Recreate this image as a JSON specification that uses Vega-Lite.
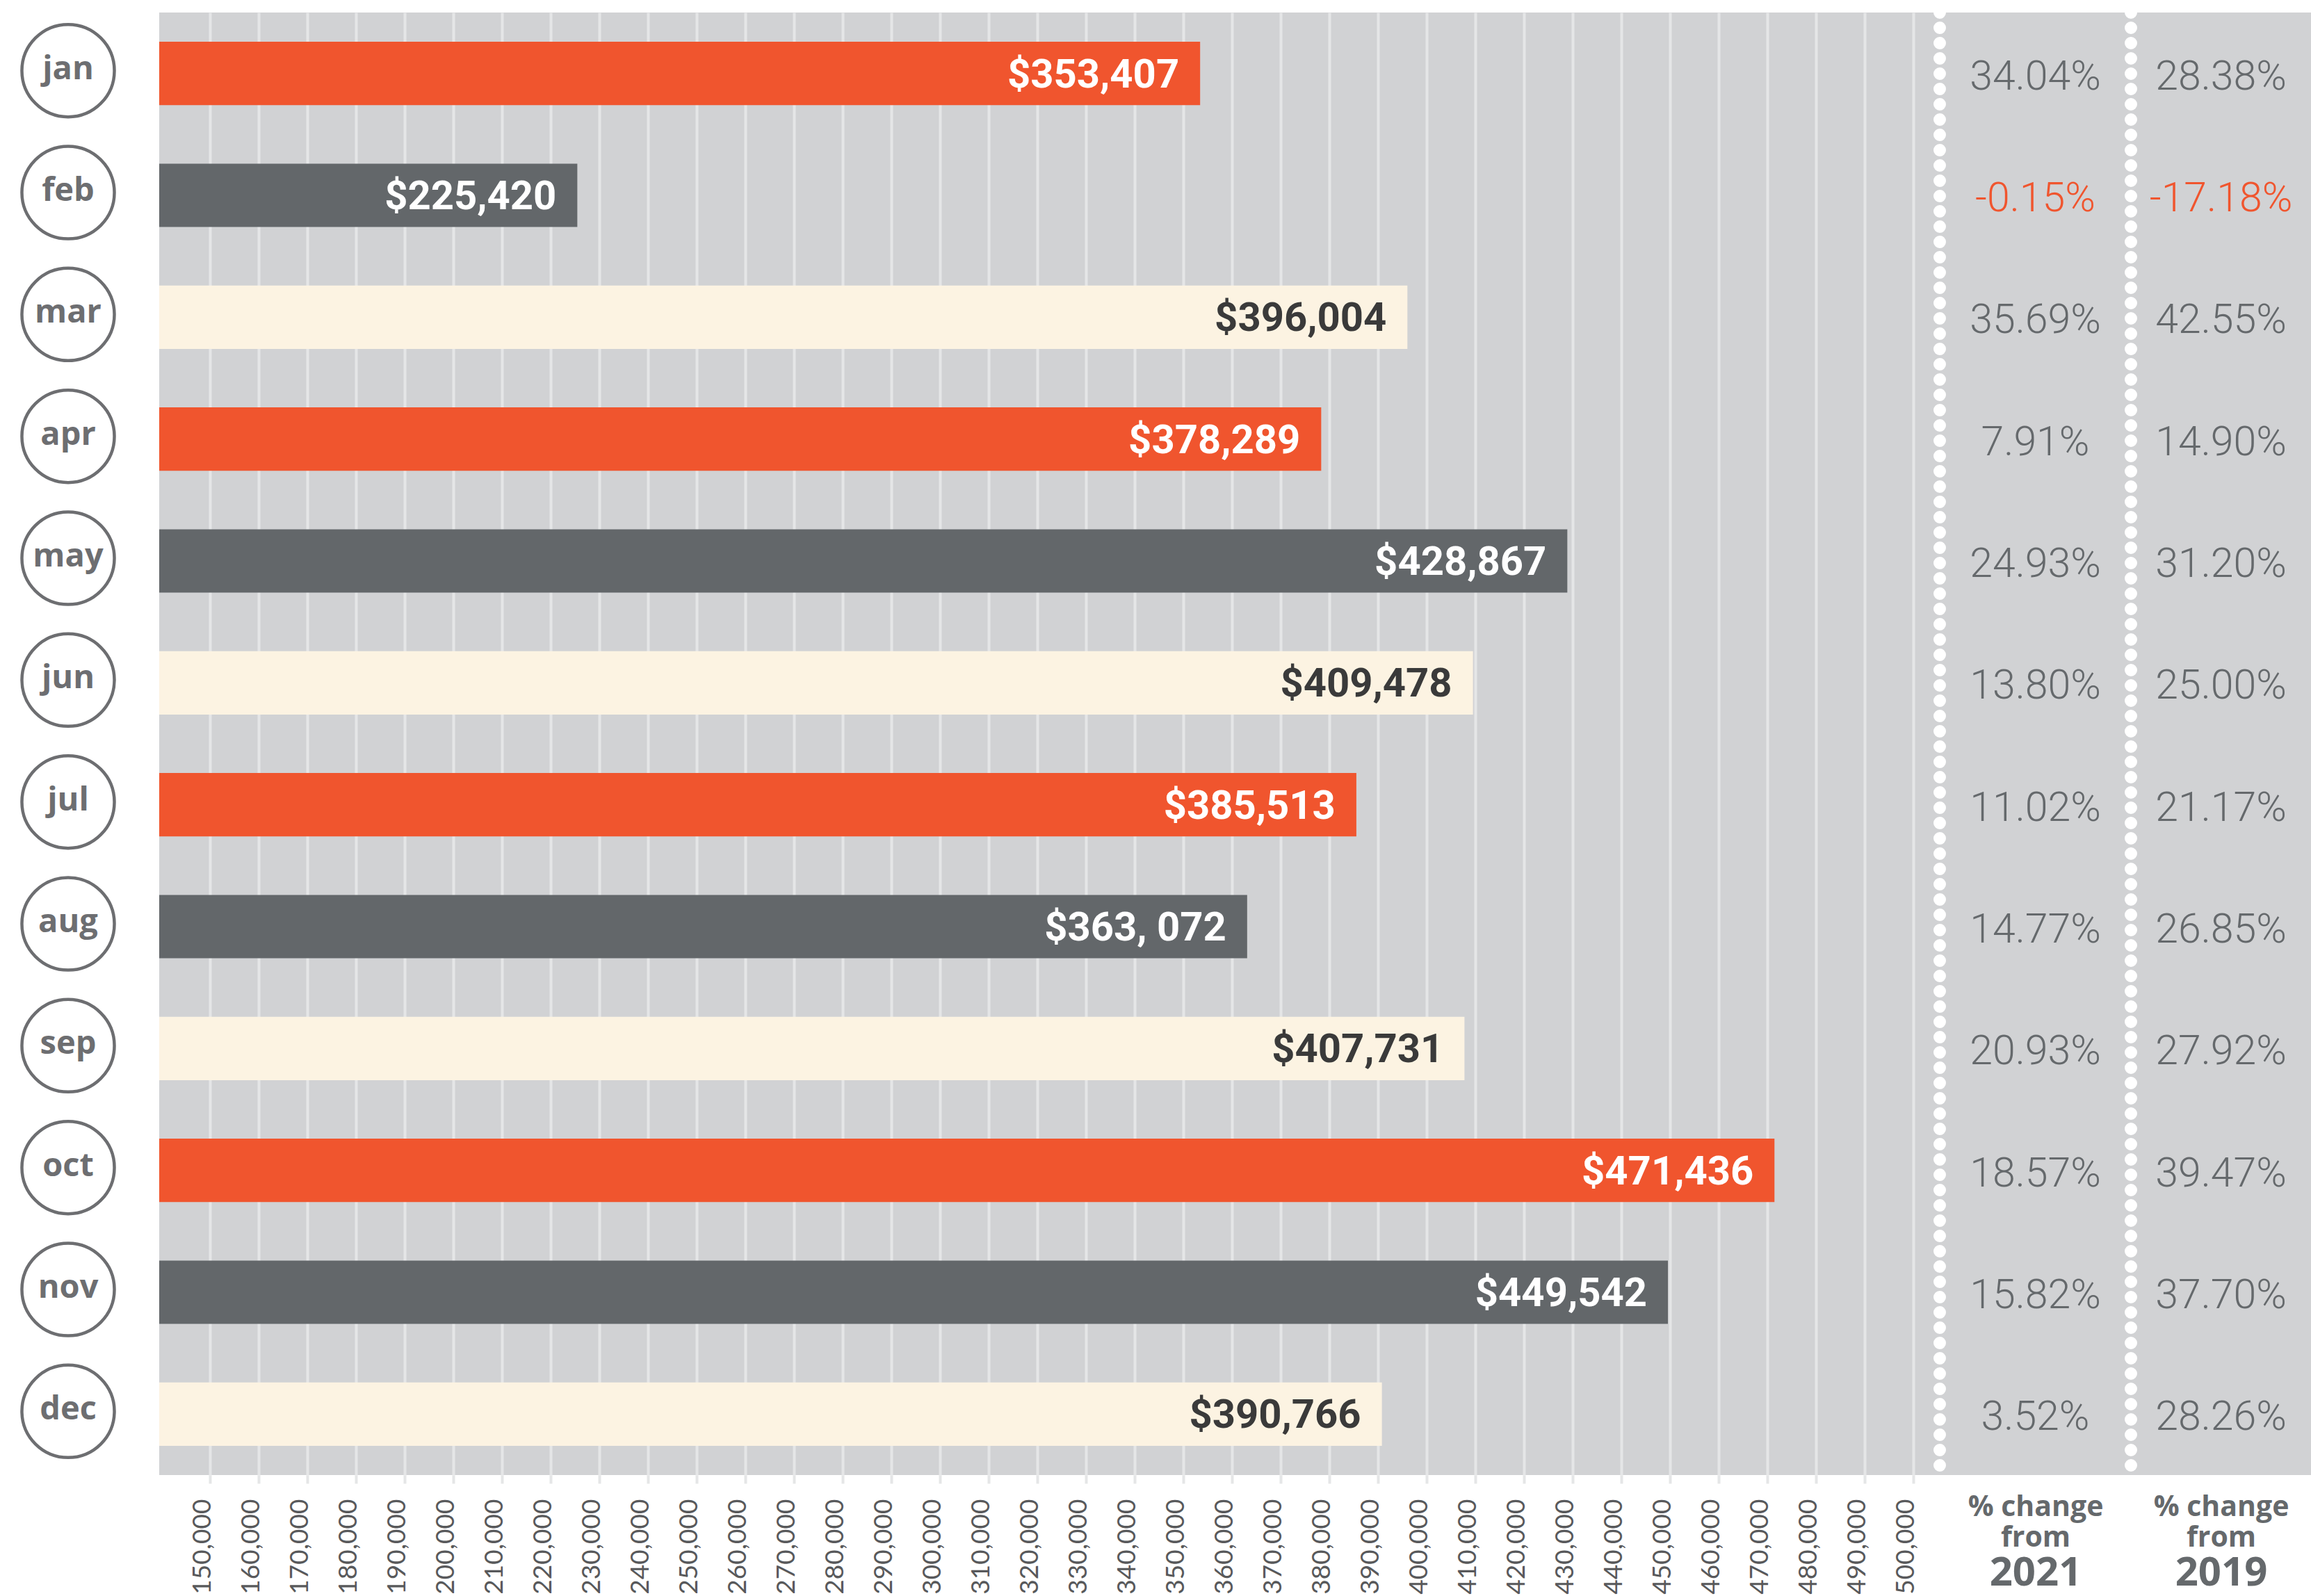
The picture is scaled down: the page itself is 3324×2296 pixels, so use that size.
{
  "$schema": "https://vega.github.io/schema/vega-lite/v6.json",
  "background": "white",
  "padding": {"left": 0, "top": 9, "right": 0, "bottom": 0},
  "config": {"view": {"stroke": null}},
  "datasets": {
    "sales": [
      {"month": "jan", "sales": 353407, "label": "$353,407", "p21": 34.04, "p19": 28.38},
      {"month": "feb", "sales": 225420, "label": "$225,420", "p21": -0.15, "p19": -17.18},
      {"month": "mar", "sales": 396004, "label": "$396,004", "p21": 35.69, "p19": 42.55},
      {"month": "apr", "sales": 378289, "label": "$378,289", "p21": 7.91, "p19": 14.90},
      {"month": "may", "sales": 428867, "label": "$428,867", "p21": 24.93, "p19": 31.20},
      {"month": "jun", "sales": 409478, "label": "$409,478", "p21": 13.80, "p19": 25.00},
      {"month": "jul", "sales": 385513, "label": "$385,513", "p21": 11.02, "p19": 21.17},
      {"month": "aug", "sales": 363072, "label": "$363, 072", "p21": 14.77, "p19": 26.85},
      {"month": "sep", "sales": 407731, "label": "$407,731", "p21": 20.93, "p19": 27.92},
      {"month": "oct", "sales": 471436, "label": "$471,436", "p21": 18.57, "p19": 39.47},
      {"month": "nov", "sales": 449542, "label": "$449,542", "p21": 15.82, "p19": 37.70},
      {"month": "dec", "sales": 390766, "label": "$390,766", "p21": 3.52, "p19": 28.26}
    ]
  },
  "spacing": 33,
  "bounds": "flush",
  "hconcat": [
    {
      "width": 196,
      "height": 2104,
      "data": {"name": "sales"},
      "encoding": {
        "y": {"field": "month", "type": "nominal", "sort": null, "scale": {"type": "band", "paddingInner": 0.48, "paddingOuter": 0.24}, "axis": null}
      },
      "layer": [
        {"mark": {"type": "point", "shape": "circle", "filled": false, "size": 17700, "stroke": "#6d6e71", "strokeWidth": 4.5, "opacity": 1, "yOffset": -4}},
        {"mark": {"type": "text", "font": "Open Sans", "fontWeight": "bold", "fontSize": 47, "color": "#6d6e71", "baseline": "middle", "dy": -6}, "encoding": {"text": {"field": "month"}}}
      ]
    },
    {
      "spacing": 0,
      "bounds": "flush",
      "hconcat": [
        {
          "width": 2561,
          "height": 2104,
          "view": {"fill": "#d1d2d4", "stroke": null},
          "data": {"name": "sales"},
          "encoding": {
            "y": {"field": "month", "type": "nominal", "sort": null, "scale": {"type": "band", "paddingInner": 0.48, "paddingOuter": 0.24}, "axis": null}
          },
          "layer": [
            {
              "mark": {"type": "bar"},
              "encoding": {
                "x": {
                  "field": "sales", "type": "quantitative",
                  "scale": {"domain": [139500, 505400], "nice": false, "zero": false},
                  "axis": {
                    "values": [150000,160000,170000,180000,190000,200000,210000,220000,230000,240000,250000,260000,270000,280000,290000,300000,310000,320000,330000,340000,350000,360000,370000,380000,390000,400000,410000,420000,430000,440000,450000,460000,470000,480000,490000,500000],
                    "format": ",d",
                    "labelAngle": -90,
                    "labelAlign": "right",
                    "labelBaseline": "alphabetic",
                    "labelFont": "Lato",
                    "labelFontSize": 37,
                    "labelColor": "#58595b",
                    "labelPadding": 22,
                    "labelOverlap": false,
                    "labelFlush": false,
                    "grid": true,
                    "gridColor": "#e5e6e7",
                    "gridWidth": 4,
                    "gridOpacity": 1,
                    "ticks": true,
                    "tickColor": "#e5e6e7",
                    "tickWidth": 4,
                    "tickSize": 12,
                    "domain": false,
                    "title": null
                  }
                },
                "x2": {"datum": 139500},
                "color": {
                  "field": "month", "type": "nominal",
                  "scale": {
                    "domain": ["jan","feb","mar","apr","may","jun","jul","aug","sep","oct","nov","dec"],
                    "range": ["#f0552e","#63676a","#fcf3e2","#f0552e","#63676a","#fcf3e2","#f0552e","#63676a","#fcf3e2","#f0552e","#63676a","#fcf3e2"]
                  },
                  "legend": null
                }
              }
            },
            {
              "mark": {"type": "text", "align": "right", "baseline": "middle", "dx": -30, "dy": 3, "font": "Roboto", "fontWeight": "bold", "fontSize": 58},
              "encoding": {
                "x": {"field": "sales", "type": "quantitative"},
                "text": {"field": "label"},
                "color": {"condition": {"test": "indexof(['mar','jun','sep','dec'], datum.month) >= 0", "value": "#3a3a3a"}, "value": "#ffffff"}
              }
            }
          ]
        },
        {
          "width": 275,
          "height": 2104,
          "view": {"fill": "#d1d2d4", "stroke": null},
          "data": {"name": "sales"},
          "layer": [
            {
              "transform": [{"calculate": "replace(format(datum.p21, '.2f'), '\u2212', '-') + '%'", "as": "t21"}],
              "mark": {"type": "text", "baseline": "middle", "font": "Roboto", "fontWeight": 300, "fontSize": 59, "dy": 5},
              "encoding": {
                "y": {"field": "month", "type": "nominal", "sort": null, "scale": {"type": "band", "paddingInner": 0.48, "paddingOuter": 0.24}, "axis": null},
                "text": {"field": "t21"},
                "color": {"condition": {"test": "datum.p21 < 0", "value": "#f0552e"}, "value": "#65696c"}
              }
            },
            {
              "data": {"values": [{"sep": 0}]},
              "mark": {"type": "rule", "color": "#ffffff", "strokeWidth": 18, "strokeDash": [0, 22], "strokeCap": "round"},
              "encoding": {
                "x": {
                  "field": "sep", "type": "quantitative",
                  "scale": {"domain": [0, 1], "nice": false, "zero": false},
                  "axis": {
                    "orient": "bottom", "values": [0.5], "labelExpr": "['% change', 'from']",
                    "labelAngle": 0, "labelFont": "Open Sans", "labelFontWeight": "bold", "labelFontSize": 41, "labelLineHeight": 44,
                    "labelColor": "#65696c", "labelPadding": 26, "labelBaseline": "top", "labelAlign": "center", "labelLimit": 0,
                    "ticks": false, "domain": false, "grid": false,
                    "title": "2021", "titleFont": "Open Sans", "titleFontWeight": "bold", "titleFontSize": 58, "titleColor": "#65696c", "titlePadding": 2
                  }
                }
              }
            }
          ]
        },
        {
          "width": 259,
          "height": 2104,
          "view": {"fill": "#d1d2d4", "stroke": null},
          "data": {"name": "sales"},
          "layer": [
            {
              "transform": [{"calculate": "replace(format(datum.p19, '.2f'), '\u2212', '-') + '%'", "as": "t19"}],
              "mark": {"type": "text", "baseline": "middle", "font": "Roboto", "fontWeight": 300, "fontSize": 59, "dy": 5},
              "encoding": {
                "y": {"field": "month", "type": "nominal", "sort": null, "scale": {"type": "band", "paddingInner": 0.48, "paddingOuter": 0.24}, "axis": null},
                "text": {"field": "t19"},
                "color": {"condition": {"test": "datum.p19 < 0", "value": "#f0552e"}, "value": "#65696c"}
              }
            },
            {
              "data": {"values": [{"sep": 0}]},
              "mark": {"type": "rule", "color": "#ffffff", "strokeWidth": 18, "strokeDash": [0, 22], "strokeCap": "round"},
              "encoding": {
                "x": {
                  "field": "sep", "type": "quantitative",
                  "scale": {"domain": [0, 1], "nice": false, "zero": false},
                  "axis": {
                    "orient": "bottom", "values": [0.5], "labelExpr": "['% change', 'from']",
                    "labelAngle": 0, "labelFont": "Open Sans", "labelFontWeight": "bold", "labelFontSize": 41, "labelLineHeight": 44,
                    "labelColor": "#65696c", "labelPadding": 26, "labelBaseline": "top", "labelAlign": "center", "labelLimit": 0,
                    "ticks": false, "domain": false, "grid": false,
                    "title": "2019", "titleFont": "Open Sans", "titleFontWeight": "bold", "titleFontSize": 58, "titleColor": "#65696c", "titlePadding": 2
                  }
                }
              }
            }
          ]
        }
      ]
    }
  ]
}
